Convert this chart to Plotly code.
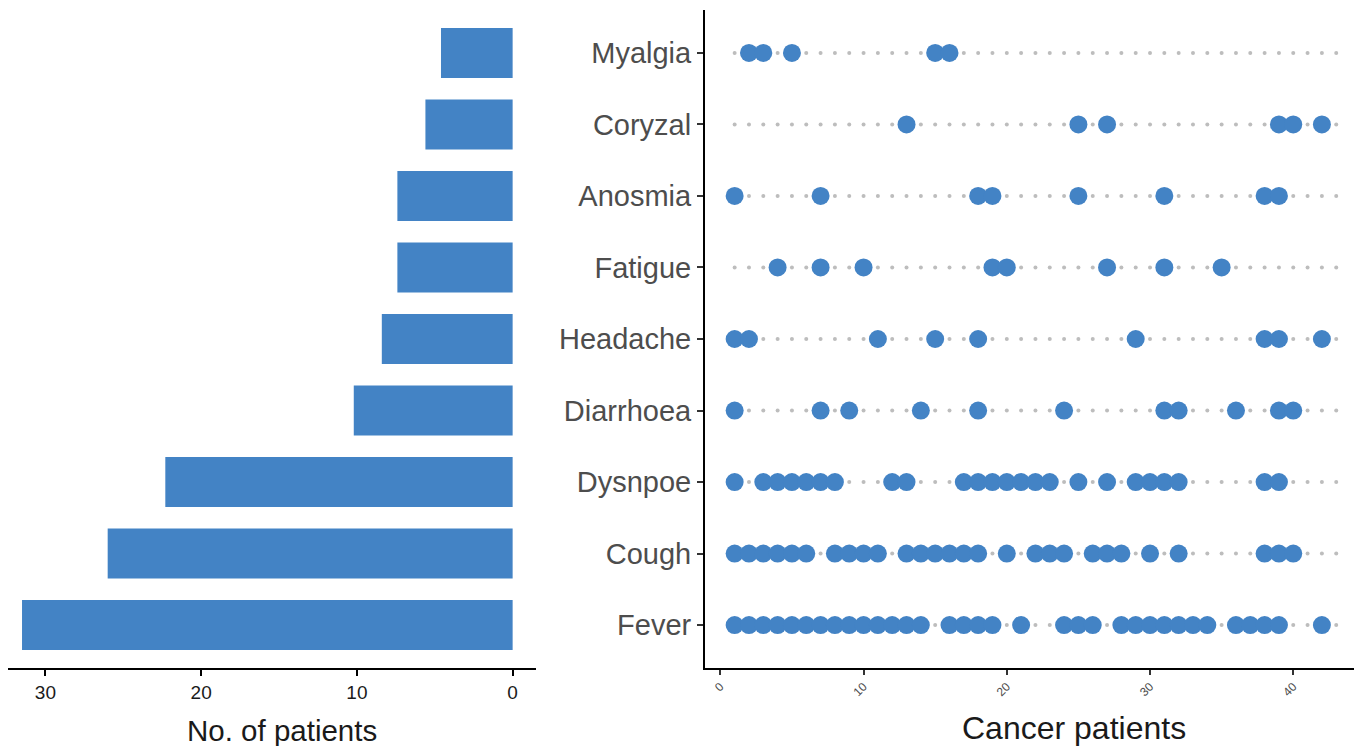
import plotly.graph_objects as go

# ---- data ----
symptoms = ["Fever", "Cough", "Dysnpoe", "Diarrhoea", "Headache",
            "Fatigue", "Anosmia", "Coryzal", "Myalgia"]
bar_values = [31.5, 26.0, 22.3, 10.2, 8.4, 7.4, 7.4, 5.6, 4.6]

patient_ids = list(range(1, 44))  # positions of the dotted guide (patients 1..43)

fever = [1, 2, 3, 4, 5, 6, 7, 8, 9, 10, 11, 12, 13, 14, 16, 17, 18, 19, 21,
         24, 25, 26, 28, 29, 30, 31, 32, 33, 34, 36, 37, 38, 39, 42]
cough = [1, 2, 3, 4, 5, 6, 8, 9, 10, 11, 13, 14, 15, 16, 17, 18, 20, 22, 23,
         24, 26, 27, 28, 30, 32, 38, 39, 40]
dysnpoe = [1, 3, 4, 5, 6, 7, 8, 12, 13, 17, 18, 19, 20, 21, 22, 23, 25, 27,
           29, 30, 31, 32, 38, 39]
diarrhoea = [1, 7, 9, 14, 18, 24, 31, 32, 36, 39, 40]
headache = [1, 2, 11, 15, 18, 29, 38, 39, 42]
fatigue = [4, 7, 10, 19, 20, 27, 31, 35]
anosmia = [1, 7, 18, 19, 25, 31, 38, 39]
coryzal = [13, 25, 27, 39, 40, 42]
myalgia = [2, 3, 5, 15, 16]

patients_by_symptom = {
    "Fever": fever, "Cough": cough, "Dysnpoe": dysnpoe,
    "Diarrhoea": diarrhoea, "Headache": headache, "Fatigue": fatigue,
    "Anosmia": anosmia, "Coryzal": coryzal, "Myalgia": myalgia,
}

left_ticks = [0, 10, 20, 30]
right_ticks = [0, 10, 20, 30, 40]

# ---- styling ----
BLUE = "#4383C5"
GREY = "#BDBDBD"
OFF = 8                      # page body margin of the html
W, H = 1362 - OFF, 746 - OFF


def px(x):
    return (x - OFF) / W


def py(y):
    return (H - (y - OFF)) / H


fig = go.Figure()

# left bar chart
fig.add_trace(go.Bar(
    x=bar_values, y=symptoms, orientation="h",
    marker=dict(color=BLUE, line=dict(width=0)),
    width=0.7, xaxis="x", yaxis="y", showlegend=False,
))

# dotted guides
for s in symptoms:
    fig.add_trace(go.Scatter(
        x=patient_ids, y=[s] * len(patient_ids), mode="markers",
        marker=dict(color=GREY, size=4, line=dict(width=0)),
        xaxis="x2", yaxis="y2", showlegend=False, hoverinfo="skip",
    ))

# patient dots
for s in symptoms:
    vals = patients_by_symptom[s]
    fig.add_trace(go.Scatter(
        x=vals, y=[s] * len(vals), mode="markers",
        marker=dict(color=BLUE, size=18, line=dict(width=0)),
        xaxis="x2", yaxis="y2", showlegend=False,
    ))

ydom = [py(668), py(10)]

fig.update_layout(
    width=W, height=H,
    margin=dict(l=0, r=0, t=0, b=0),
    paper_bgcolor="white", plot_bgcolor="white",
    font=dict(family="Liberation Sans, Arial, sans-serif", color="#1a1a1a"),
    xaxis=dict(
        domain=[px(8), px(536)], range=[32.4, -1.5],
        tickvals=left_ticks, ticktext=[str(t) for t in left_ticks],
        showline=True, linecolor="black", linewidth=2,
        ticks="outside", ticklen=6, tickwidth=2, tickcolor="black",
        tickfont=dict(size=19, color="#1a1a1a"),
        showgrid=False, zeroline=False, automargin=False,
        anchor="y",
    ),
    yaxis=dict(
        domain=ydom, type="category",
        categoryorder="array", categoryarray=symptoms,
        range=[-0.6, 8.6],
        showticklabels=False, showline=False, ticks="",
        showgrid=False, zeroline=False, automargin=False,
        anchor="x",
    ),
    xaxis2=dict(
        domain=[px(705), 1.0], range=[-1.07, 44.8],
        tickvals=right_ticks, ticktext=[str(t) for t in right_ticks],
        tickangle=-45,
        showline=True, linecolor="black", linewidth=2,
        ticks="outside", ticklen=5, tickwidth=1.5, tickcolor="#333333",
        tickfont=dict(size=12, color="#4d4d4d"),
        showgrid=False, zeroline=False, automargin=False,
        anchor="y2",
    ),
    yaxis2=dict(
        domain=ydom, type="category",
        categoryorder="array", categoryarray=symptoms,
        range=[-0.6, 8.6],
        showline=True, linecolor="black", linewidth=2,
        ticks="outside", ticklen=6, tickwidth=1.5, tickcolor="#333333",
        tickfont=dict(size=29, color="#4d4d4d"),
        showgrid=False, zeroline=False, automargin=False,
        anchor="x2",
    ),
    annotations=[
        dict(text="No. of patients", x=px(282), y=py(730),
             xref="paper", yref="paper", showarrow=False,
             xanchor="center", yanchor="middle",
             font=dict(size=29.5, color="#1a1a1a")),
        dict(text="Cancer patients", x=px(1074), y=py(728),
             xref="paper", yref="paper", showarrow=False,
             xanchor="center", yanchor="middle",
             font=dict(size=32, color="#1a1a1a")),
    ],
)

fig.write_html("out.html")
